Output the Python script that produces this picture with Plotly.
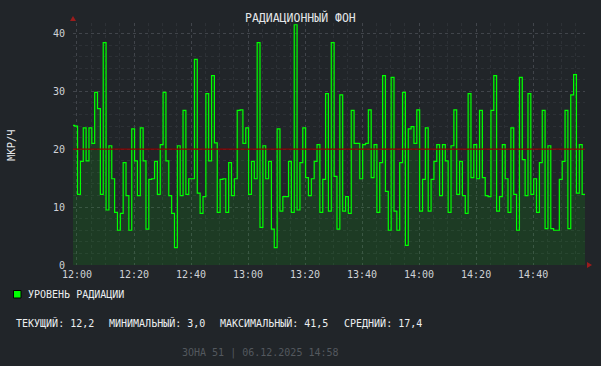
import plotly.graph_objects as go
import pandas as pd

# ---- data ----
START_TIME = "2025-12-06 11:58:12"
STEP = "1min"
radiation = [
    24.1, 24.0, 12.2, 17.9, 23.7, 18.0, 23.7, 21.0, 29.8, 27.0,
    12.2, 38.4, 9.5, 20.6, 14.9, 9.1, 6.0, 8.9, 17.7, 12.0,
    6.0, 23.5, 18.0, 12.0, 23.7, 18.0, 6.2, 14.8, 14.9, 17.9,
    12.2, 20.8, 29.8, 18.0, 12.0, 8.9, 3.0, 20.6, 12.0, 26.7,
    12.2, 14.9, 14.9, 35.5, 12.4, 8.9, 11.8, 29.6, 18.0, 32.7,
    21.1, 9.1, 14.8, 14.9, 9.1, 17.7, 12.0, 14.9, 26.7, 26.8,
    21.0, 23.7, 12.2, 17.9, 14.9, 38.4, 6.5, 20.6, 14.9, 17.9,
    6.2, 3.0, 23.5, 9.3, 11.8, 11.8, 17.9, 9.1, 41.5, 9.5,
    17.7, 23.7, 15.1, 12.0, 14.9, 17.9, 20.8, 9.1, 14.8, 29.6,
    9.3, 38.4, 15.3, 6.2, 29.4, 9.3, 11.8, 8.9, 26.7, 21.0,
    21.0, 14.9, 20.8, 21.0, 26.8, 15.1, 20.8, 9.1, 17.7, 32.7,
    12.7, 6.0, 32.4, 9.3, 6.0, 17.7, 29.8, 3.4, 23.5, 23.9,
    21.0, 26.8, 9.3, 14.8, 23.7, 9.3, 14.8, 17.9, 20.8, 12.0,
    20.8, 18.0, 9.1, 20.6, 26.8, 12.2, 17.9, 12.0, 8.9, 29.6,
    15.1, 20.8, 14.9, 26.7, 15.1, 12.0, 11.8, 26.7, 32.7, 9.3,
    11.8, 20.8, 14.9, 9.1, 23.7, 12.2, 6.0, 32.4, 18.2, 12.0,
    29.6, 12.2, 14.9, 9.1, 17.7, 26.7, 6.3, 20.6, 6.3, 6.0,
    6.0, 14.8, 17.9, 26.7, 6.3, 29.4, 32.9, 12.4, 20.8, 12.2,
]
THRESHOLD = 20
Y_TICKS = [0, 10, 20, 30, 40]
TITLE = "РАДИАЦИОННЫЙ ФОН"
Y_LABEL = "МКР/Ч"
SERIES_NAME = "УРОВЕНЬ РАДИАЦИИ"
STAT_LABELS = ["ТЕКУЩИЙ", "МИНИМАЛЬНЫЙ", "МАКСИМАЛЬНЫЙ", "СРЕДНИЙ"]
STAT_VALUES = ["12,2", "3,0", "41,5", "17,4"]
FOOTER = "ЗОНА 51 | 06.12.2025 14:58"
X_RANGE = ["2025-12-06 11:58:36", "2025-12-06 14:58:12"]

# ---- layout constants ----
W, H = 601, 366
L, R, T, B = 73, 16, 23, 101
PW, PH = W - L - R, H - T - B
BG = "#212529"
FONT = "DejaVu Sans Mono"
GRID_MAJOR = "#41454b"
GRID_MINOR = "#2d3136"
STAT_X = [14, 106.7, 218.3, 342.3]

def px(xp):
    return (xp - L) / PW

def py(yp):
    return (H - B - yp) / PH

times = pd.date_range(START_TIME, periods=len(radiation) + 1, freq=STEP)
xs = list(times)
ys = radiation + [radiation[-1]]

fig = go.Figure()
fig.add_trace(go.Scatter(
    x=xs, y=ys, mode="lines", name=SERIES_NAME,
    line=dict(shape="hv", color="#00ff00", width=1.2),
    fill="tozeroy", fillcolor="rgba(0,255,0,0.10)",
    showlegend=False, hoverinfo="skip",
))

fig.add_hline(y=THRESHOLD, line=dict(color="#8b0000", width=1.2), layer="above")

fig.update_layout(
    width=W, height=H,
    margin=dict(l=L, r=R, t=T, b=B),
    paper_bgcolor=BG, plot_bgcolor=BG,
    font=dict(family=FONT, size=10, color="#cfd2d6"),
    showlegend=False,
)
fig.update_xaxes(
    type="date", range=X_RANGE,
    dtick=20 * 60 * 1000, tick0="2025-12-06 12:00", tickformat="%H:%M",
    showgrid=True, gridcolor=GRID_MAJOR, griddash="dot", gridwidth=1,
    minor=dict(dtick=5 * 60 * 1000, showgrid=True, gridcolor=GRID_MINOR,
               griddash="dot", gridwidth=1),
    zeroline=False, showline=False, ticks="",
    tickfont=dict(family=FONT, size=10, color="#cfd2d6"),
    ticklabelstandoff=2,
)
fig.update_yaxes(
    range=[0, 41.8], tickvals=Y_TICKS,
    showgrid=True, gridcolor=GRID_MAJOR, griddash="dot", gridwidth=1,
    minor=dict(dtick=2, showgrid=True, gridcolor=GRID_MINOR,
               griddash="dot", gridwidth=1),
    zeroline=False, showline=False, ticks="",
    tickfont=dict(family=FONT, size=10, color="#cfd2d6"),
    ticklabelstandoff=7,
)

ann = []
ann.append(dict(text=TITLE, x=px(300), y=py(17), xref="paper", yref="paper",
                showarrow=False, xanchor="center", yanchor="middle",
                font=dict(family=FONT, size=11.5, color="#e4e6e8")))
ann.append(dict(text=Y_LABEL, x=px(11), y=py(145), xref="paper", yref="paper",
                showarrow=False, xanchor="center", yanchor="middle", textangle=-90,
                font=dict(family=FONT, size=10.5, color="#e4e6e8")))
ann.append(dict(text=SERIES_NAME, x=px(26), y=py(294.5), xref="paper", yref="paper",
                showarrow=False, xanchor="left", yanchor="middle",
                font=dict(family=FONT, size=10, color="#eceef0")))
for sx, lab, val in zip(STAT_X, STAT_LABELS, STAT_VALUES):
    ann.append(dict(text=f"{lab}:&nbsp;{val}", x=px(sx), y=py(322.5),
                    xref="paper", yref="paper",
                    showarrow=False, xanchor="left", yanchor="middle",
                    font=dict(family=FONT, size=10, color="#eceef0")))
ann.append(dict(text=FOOTER, x=px(260.5), y=py(353), xref="paper", yref="paper",
                showarrow=False, xanchor="center", yanchor="middle",
                font=dict(family=FONT, size=10, color="#53585e")))
fig.update_layout(annotations=ann)

shapes = []
# legend swatch
shapes.append(dict(type="rect", xref="paper", yref="paper",
                   x0=px(13.5), x1=px(21), y0=py(298), y1=py(290.5),
                   fillcolor="#00ff00", line=dict(color="#000000", width=1)))
# axis arrows
ax, ay = 73, 17
shapes.append(dict(type="path", xref="paper", yref="paper",
                   path=f"M {px(ax-3)} {py(ay+4)} L {px(ax+3)} {py(ay+4)} L {px(ax)} {py(ay-1)} Z",
                   fillcolor="#9b1c1c", line=dict(width=0)))
bx, by = 587, 265
shapes.append(dict(type="path", xref="paper", yref="paper",
                   path=f"M {px(bx)} {py(by-3)} L {px(bx)} {py(by+3)} L {px(bx+5)} {py(by)} Z",
                   fillcolor="#9b1c1c", line=dict(width=0)))
for s in shapes:
    fig.add_shape(**s)

fig.write_html("out.html",
               config={"displayModeBar": False, "staticPlot": True},
               post_script="document.body.style.margin='0px';document.body.style.background='%s';" % BG)
